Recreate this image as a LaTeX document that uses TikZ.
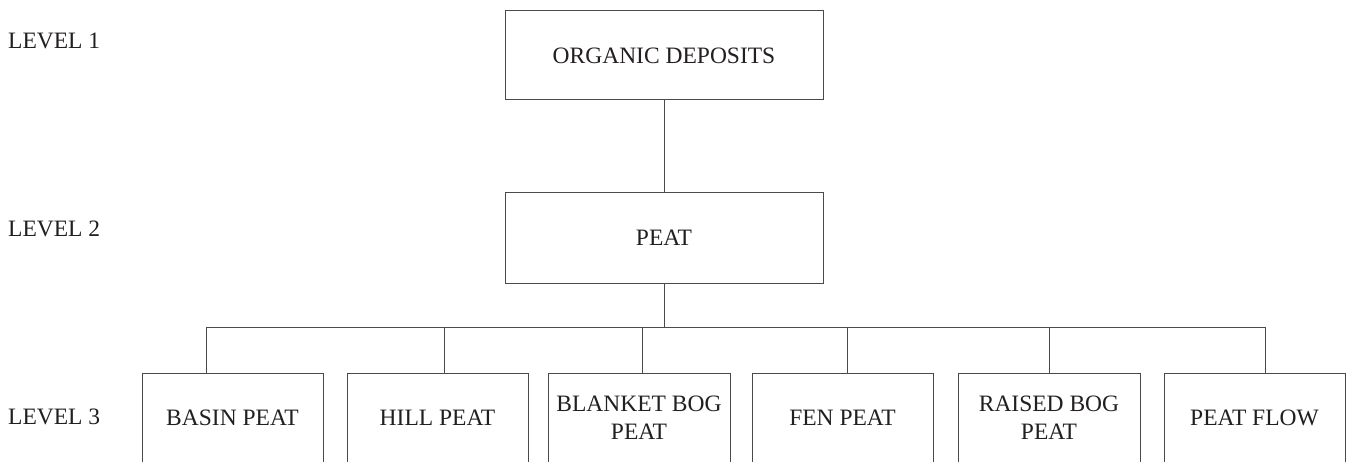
\documentclass[tikz,border=0pt]{standalone}
\usepackage{fontspec}
\setmainfont{Liberation Serif}
\definecolor{ink}{HTML}{231F20}
\definecolor{rule}{HTML}{4A4A4A}
\begin{document}
\begin{tikzpicture}[x=1pt,y=-1pt,
  txt/.style={font=\fontsize{23.5}{28}\selectfont, text=ink},
  box/.style={txt, draw=rule, line width=1pt, inner sep=0pt, outer sep=0pt, minimum height=89pt, align=center},
  openbox/.style={txt, inner sep=0pt, outer sep=0pt, minimum width=181pt, minimum height=89pt, align=center},
  lvl/.style={txt, anchor=base west, inner sep=0pt},
  conn/.style={draw=rule, line width=1pt}]
\useasboundingbox (0,0) rectangle (1351,462);
\fill[white] (0,0) rectangle (1351,462);
% level labels
\node[lvl] (l1) at (8,49) {LEVEL 1};
\node[lvl] (l2) at (8,237) {LEVEL 2};
\node[lvl] (l3) at (8,424) {LEVEL 3};
% top boxes
\node[box, minimum width=318pt] (org) at (664,55.5) {ORGANIC DEPOSITS};
\node[box, minimum width=318pt, minimum height=90pt] (peat) at (664,238) {PEAT};
% level 3 boxes (open at the bottom, cut by the page edge)
\node[openbox] (b1) at (232.5,417.5) {BASIN PEAT};
\node[openbox] (b2) at (437.5,417.5) {HILL PEAT};
\node[openbox, minimum width=182pt] (b3) at (639,417.5) {BLANKET BOG\\PEAT};
\node[openbox] (b4) at (842.5,417.5) {FEN PEAT};
\node[openbox, minimum width=182pt] (b5) at (1049,417.5) {RAISED BOG\\PEAT};
\node[openbox] (b6) at (1254.5,417.5) {PEAT FLOW};
\foreach \b in {b1,b2,b3,b4,b5,b6}{
  \draw[conn] (\b.south west) -- (\b.north west) -- (\b.north east) -- (\b.south east);
}
% connectors
\draw[conn] (org) -- (peat);
\coordinate (c1) at (206,327);
\coordinate (c2) at (444,327);
\coordinate (c3) at (642,327);
\coordinate (c4) at (847,327);
\coordinate (c5) at (1049,327);
\coordinate (c6) at (1265,327);
\draw[conn] (peat.south) -- (peat.south |- c1);
\draw[conn] (c1) -- (c6);
\draw[conn] (c1) -- (c1 |- b1.north);
\draw[conn] (c2) -- (c2 |- b2.north);
\draw[conn] (c3) -- (c3 |- b3.north);
\draw[conn] (c4) -- (c4 |- b4.north);
\draw[conn] (c5) -- (c5 |- b5.north);
\draw[conn] (c6) -- (c6 |- b6.north);
\end{tikzpicture}
\end{document}
